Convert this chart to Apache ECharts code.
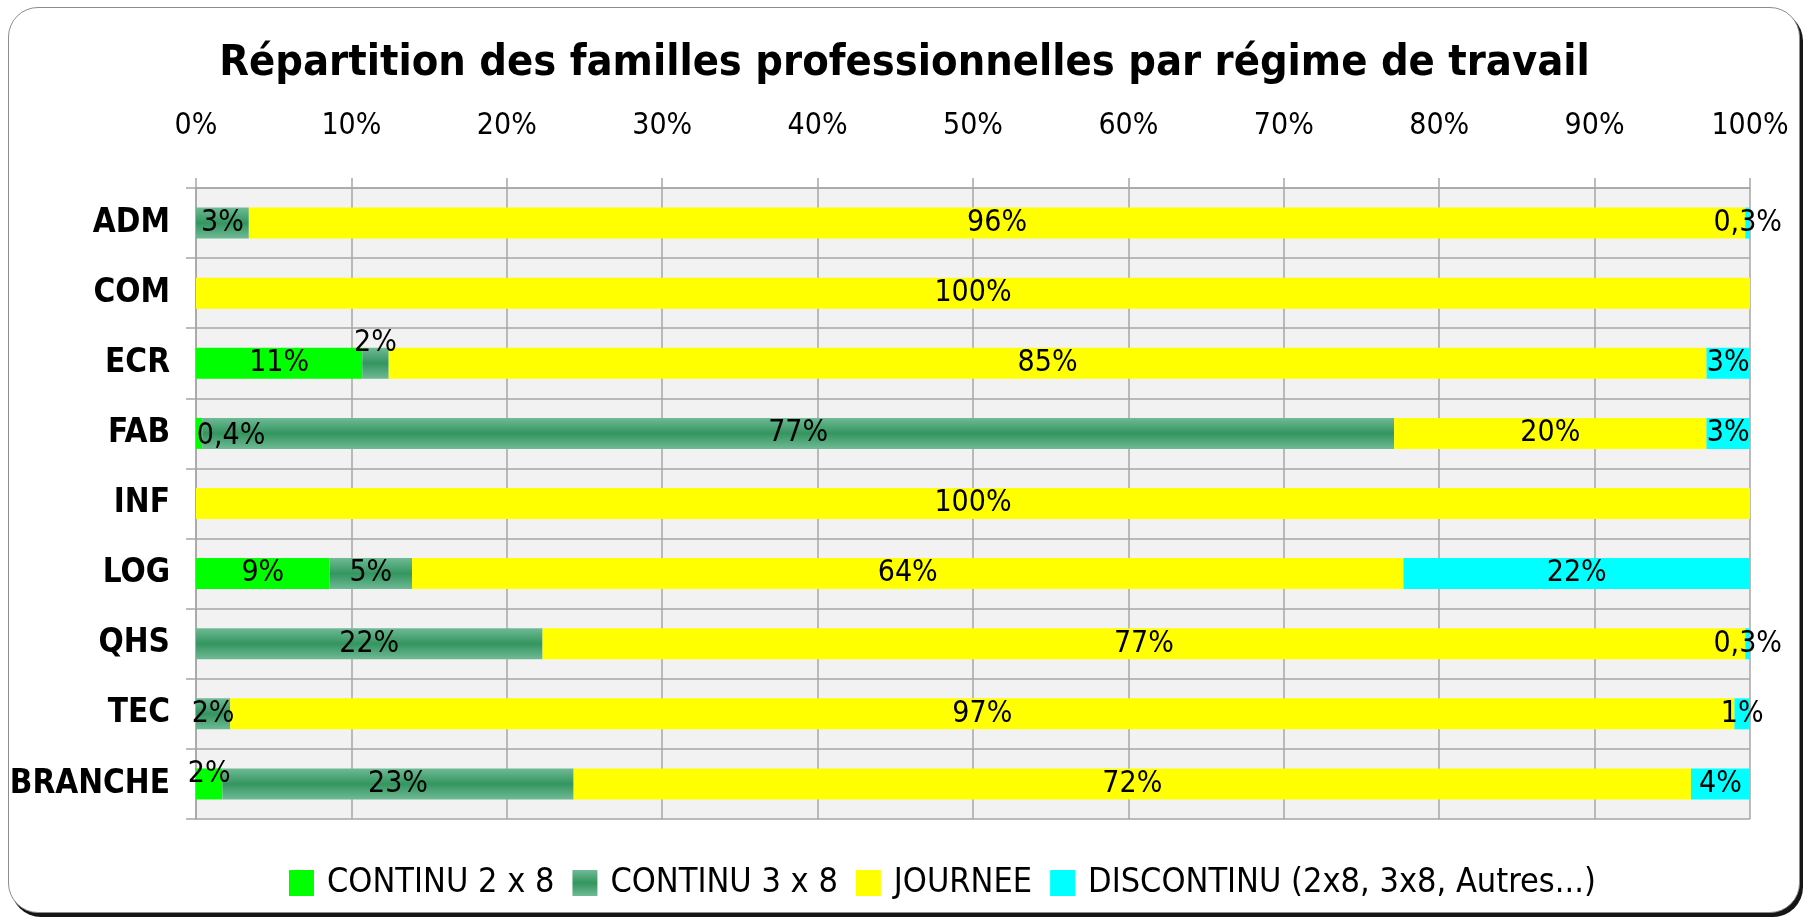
<!DOCTYPE html>
<html lang="fr">
<head>
<meta charset="utf-8">
<title>Répartition des familles professionnelles par régime de travail</title>
<script src="https://cdn.jsdelivr.net/npm/echarts@6.0.0/dist/echarts.min.js"></script>
<style>
  html, body { margin: 0; padding: 0; background: #fff; }
  #frame {
    position: absolute; left: 8px; top: 7px; width: 1790px; height: 904px;
    border: 1.5px solid #8c8c8c; border-radius: 30px;
    box-shadow: 3px 4px 0 #151515; background: #fff;
  }
  #chart { position: absolute; left: 0; top: 0; width: 1809px; height: 922px; }
</style>
</head>
<body>
<div id="frame"></div>
<div id="chart"></div>
<script>
// familles professionnelles (axe vertical)
const categories = ['ADM', 'COM', 'ECR', 'FAB', 'INF', 'LOG', 'QHS', 'TEC', 'BRANCHE']
// parts en % par régime de travail
const continu2x8 = [0, 0, 10.7, 0.4, 0, 8.6, 0, 0, 1.7]
const continu3x8 = [3.4, 0, 1.7, 76.7, 0, 5.3, 22.3, 2.2, 22.6]
const journee = [96.3, 100, 84.8, 20.1, 100, 63.8, 77.4, 96.8, 71.9]
const discontinu = [0.3, 0, 2.8, 2.8, 0, 22.3, 0.3, 1.0, 3.8]
const seriesNames = ['CONTINU 2 x 8', 'CONTINU 3 x 8', 'JOURNEE', 'DISCONTINU (2x8, 3x8, Autres...)']
const xTicks = [0, 10, 20, 30, 40, 50, 60, 70, 80, 90, 100]

const FONT = "'DejaVu Sans Condensed', 'DejaVu Sans', sans-serif"

// étiquettes déplacées à la main dans l'original (série -> catégorie -> décalage)
const labelNudges = {
  1: { ECR: [0, -20] },
  0: { FAB: [32, 3], BRANCHE: [0, -10] },
}

const fmt = (v) => {
  if (!v) return ''
  if (v < 1) return v.toFixed(1).replace('.', ',') + '%'
  return Math.round(v) + '%'
}

const green3x8 = new echarts.graphic.LinearGradient(0, 0, 0, 1, [
  { offset: 0, color: '#6fba95' },
  { offset: 0.5, color: '#34955f' },
  { offset: 1, color: '#6fba95' },
])
const colors = ['#00ff00', green3x8, '#ffff00', '#00ffff']
const values = [continu2x8, continu3x8, journee, discontinu]

const buildData = (idx) =>
  values[idx].map((v, i) => {
    const nudge = labelNudges[idx] && labelNudges[idx][categories[i]]
    return nudge ? { value: v, label: { offset: nudge } } : v
  })

const chart = echarts.init(document.getElementById('chart'), null, { renderer: 'canvas' })

chart.setOption({
  backgroundColor: 'transparent',
  animation: false,
  textStyle: { fontFamily: FONT, color: '#000' },
  title: {
    text: 'Répartition des familles professionnelles par régime de travail',
    left: 'center',
    top: 37,
    textStyle: { fontFamily: FONT, fontWeight: 'bold', fontSize: 43, color: '#000' },
  },
  legend: {
    left: 284,
    top: 861,
    itemWidth: 25,
    itemHeight: 26,
    itemGap: 18,
    icon: 'rect',
    data: seriesNames,
    textStyle: { fontFamily: FONT, fontSize: 34, color: '#000', padding: [0, 0, 0, 8] },
  },
  grid: {
    left: 196,
    right: 59,
    top: 188,
    bottom: 103,
    outerBoundsMode: 'none',
    show: true,
    backgroundColor: '#f2f2f2',
    borderWidth: 0,
  },
  xAxis: {
    type: 'value',
    position: 'top',
    min: xTicks[0],
    max: xTicks[xTicks.length - 1],
    interval: xTicks[1] - xTicks[0],
    axisLine: { show: true, lineStyle: { color: '#a6a6a6', width: 1.5 } },
    axisTick: { show: true, length: 10, lineStyle: { color: '#a6a6a6', width: 1.5 } },
    splitLine: { show: true, lineStyle: { color: '#a6a6a6', width: 1.5 } },
    axisLabel: { fontFamily: FONT, fontSize: 30, color: '#000', margin: 47, formatter: '{value}%' },
  },
  yAxis: {
    type: 'category',
    inverse: true,
    data: categories,
    axisLine: { show: true, lineStyle: { color: '#a6a6a6', width: 1.5 } },
    axisTick: { show: true, length: 10, lineStyle: { color: '#a6a6a6', width: 1.5 } },
    splitLine: { show: true, lineStyle: { color: '#a6a6a6', width: 1.5 } },
    axisLabel: { fontFamily: FONT, fontSize: 33, fontWeight: 'bold', color: '#000', margin: 26 },
  },
  series: seriesNames.map((name, idx) => ({
    name,
    type: 'bar',
    stack: 'total',
    barWidth: 31,
    itemStyle: { color: colors[idx] },
    label: {
      show: true,
      position: 'inside',
      fontFamily: FONT,
      fontSize: 30,
      color: '#000',
      formatter: (p) => fmt(p.value),
    },
    data: buildData(idx),
  })),
})
</script>
</body>
</html>
